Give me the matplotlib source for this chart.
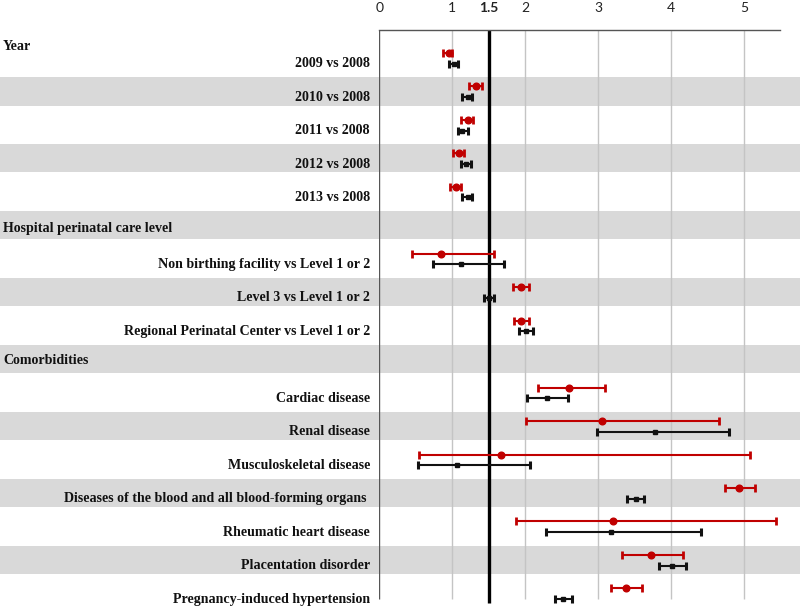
import matplotlib
matplotlib.use("Agg")
import matplotlib.pyplot as plt
import matplotlib.transforms as mtransforms
from matplotlib.patches import Rectangle

# rows of the forest plot (header rows have no estimates)
headers = ["Year", "Hospital perinatal care level", "Comorbidities"]
header_rows = [-0.18, 5.24, 9.2]

labels = ["2009 vs 2008", "2010 vs 2008", "2011 vs 2008", "2012 vs 2008",
          "2013 vs 2008",
          "Non birthing facility vs Level 1 or 2", "Level 3 vs Level 1 or 2",
          "Regional Perinatal Center vs Level 1 or 2",
          "Cardiac disease", "Renal disease", "Musculoskeletal disease",
          "Diseases of the blood and all blood-forming organs ",
          "Rheumatic heart disease", "Placentation disorder",
          "Pregnancy-induced hypertension"]
rows = [0, 1, 2, 3, 4, 6, 7, 8, 10, 11, 12, 13, 14, 15, 16]

red_or = [0.95, 1.33, 1.21, 1.09, 1.05, 0.84, 1.95, 1.95,
          2.60, 3.06, 1.665, 4.94, 3.20, 3.72, 3.39]
red_lo = [0.88, 1.235, 1.12, 1.015, 0.97, 0.45, 1.84, 1.85,
          2.17, 2.01, 0.545, 4.74, 1.875, 3.33, 3.18]
red_hi = [1.00, 1.41, 1.29, 1.165, 1.125, 1.58, 2.06, 2.06,
          3.10, 4.66, 5.08, 5.15, 5.44, 4.17, 3.60]

blk_or = [1.02, 1.21, 1.14, 1.185, 1.21, 1.125, 1.50, 2.01,
          2.30, 3.78, 1.06, 3.52, 3.18, 4.02, 2.52]
blk_lo = [0.96, 1.14, 1.08, 1.115, 1.14, 0.74, 1.43, 1.92,
          2.02, 2.98, 0.535, 3.40, 2.29, 3.83, 2.415]
blk_hi = [1.075, 1.275, 1.21, 1.255, 1.275, 1.715, 1.575, 2.11,
          2.585, 4.80, 2.07, 3.635, 4.41, 4.21, 2.64]

band_rows = [1, 3, 5, 7, 9, 11, 13, 15]
xticks = [0, 1, 1.5, 2, 3, 4, 5]
xtick_labels = ["0", "1", "1.5", "2", "3", "4", "5"]

RED = "#c00000"
BLACK = "#111111"


def main():
    fig = plt.figure(figsize=(8, 6.07), dpi=100)
    W, H = 800, 607
    x0, x1 = 379.3, 780.3
    ax = fig.add_axes([x0 / W, 0, (x1 - x0) / W, (607 - 30) / H])

    # 1 row = 33.46 px, red marker of row 0 at 53 px from top
    pitch, r0 = 33.46, 53.0
    ax.set_xlim(0, 5.5)
    ax.set_ylim((607 - r0) / pitch, (30 - r0) / pitch)

    for s in ["left", "right", "bottom"]:
        ax.spines[s].set_visible(False)
    ax.spines["top"].set_color("#555555")
    ax.spines["top"].set_linewidth(1.0)

    ax.xaxis.tick_top()
    ax.set_xticks(xticks)
    ax.set_xticklabels(xtick_labels, family="Lato", fontsize=10,
                       color="#222222")
    ax.get_xticklabels()[2].set_fontweight("bold")
    ax.tick_params(axis="x", length=0, pad=11.5)
    ax.set_yticks([])

    # grey bands across the whole figure
    trans = mtransforms.blended_transform_factory(fig.transFigure, ax.transData)
    for r in band_rows:
        ax.add_patch(Rectangle((0, r - 0.275), 1, 0.845, transform=trans,
                               facecolor="#d9d9d9", edgecolor="none",
                               clip_on=False, zorder=0))

    y_end = (599 - r0) / pitch
    ax.vlines([1, 2, 3, 4, 5], -1, y_end, color="#c4c4c4", lw=1, zorder=1)
    ax.vlines([0], -1, y_end, color="#555555", lw=1, zorder=1)
    ax.vlines([1.5], -1, (603 - r0) / pitch, color="black", lw=2.4, zorder=2)

    red_y = list(rows)
    blk_y = [r + 0.317 for r in rows]
    red_err = [[m - lo for m, lo in zip(red_or, red_lo)],
               [hi - m for m, hi in zip(red_or, red_hi)]]
    blk_err = [[m - lo for m, lo in zip(blk_or, blk_lo)],
               [hi - m for m, hi in zip(blk_or, blk_hi)]]
    ax.errorbar(red_or, red_y, xerr=red_err, fmt="o", color=RED, ms=4.8,
                elinewidth=1.5, capsize=3, capthick=2, zorder=4)
    ax.errorbar(blk_or, blk_y, xerr=blk_err, fmt="s", color=BLACK, ms=3.4,
                elinewidth=1.5, capsize=3, capthick=2.2, zorder=3)

    for lab, r in zip(labels, rows):
        ax.text(370 / W, r + 0.32, lab, transform=trans, ha="right",
                va="center", family="Liberation Serif", fontweight="bold",
                fontsize=10.1, color="#111111")
    for lab, r in zip(headers, header_rows):
        ax.text(3 / W, r, lab, transform=trans, ha="left", va="center",
                family="Liberation Serif", fontweight="bold", fontsize=10.1,
                color="#111111")

    fig.savefig("out.png", dpi=100)


if __name__ == "__main__":
    main()
